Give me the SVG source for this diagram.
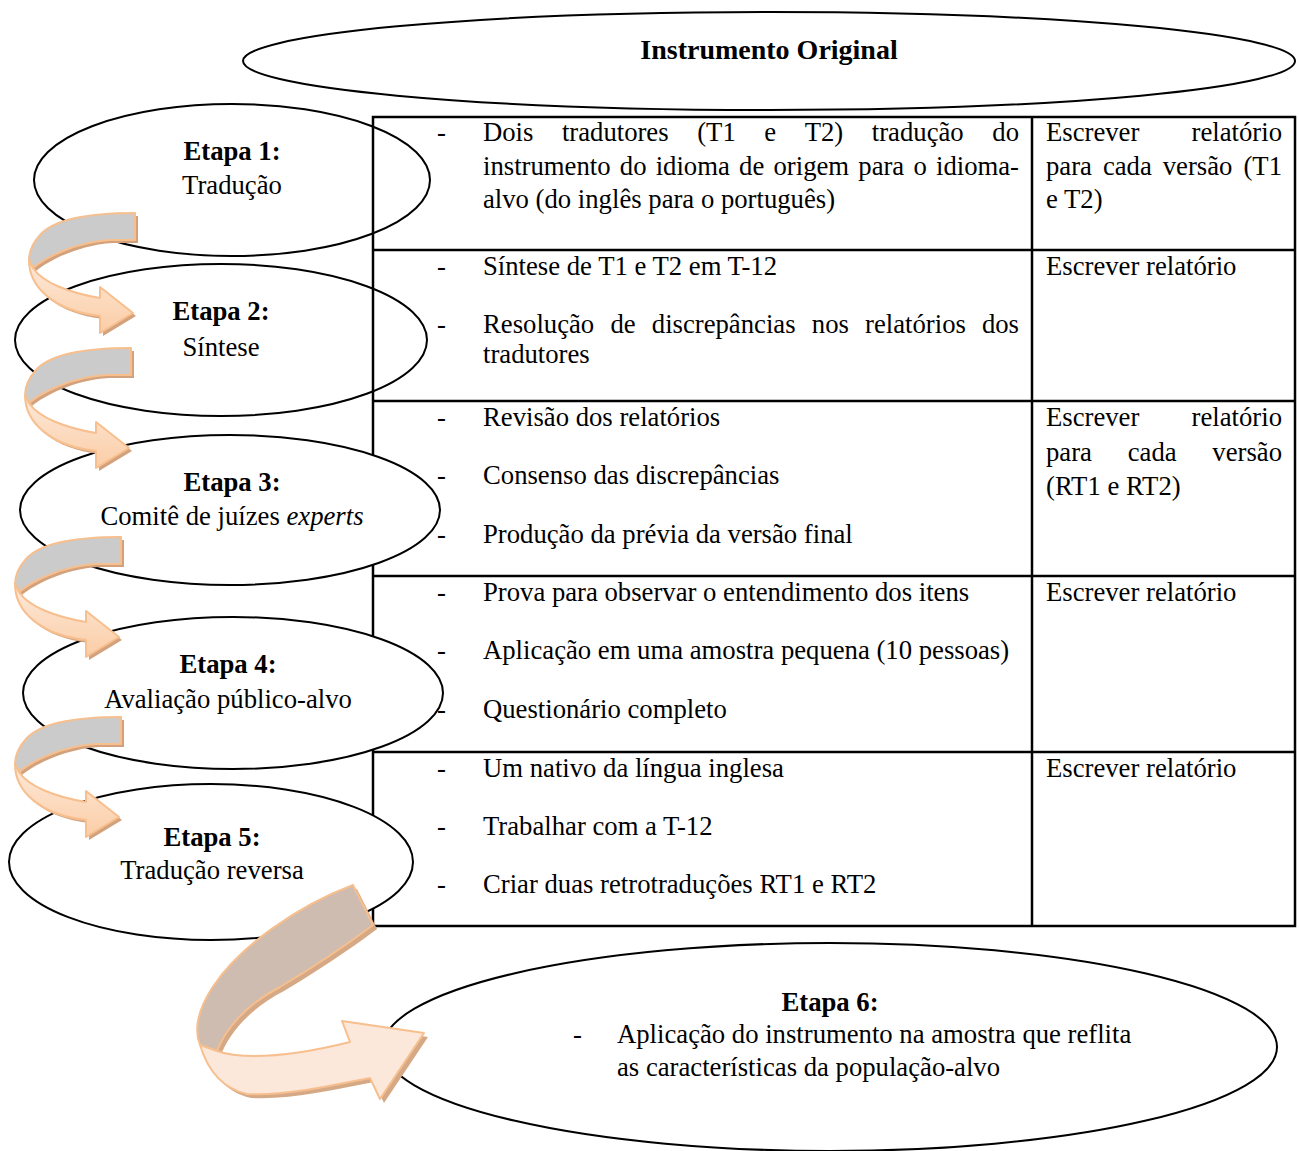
<svg xmlns="http://www.w3.org/2000/svg" width="1299" height="1151" viewBox="0 0 1299 1151">
  <defs>
    <linearGradient id="frontFill" x1="0" y1="0" x2="0" y2="1">
      <stop offset="0" stop-color="#fde9da"/>
      <stop offset="1" stop-color="#fbcda6"/>
    </linearGradient>
    <!-- small curled arrow, origin at the top-right corner of its back band -->
    <path id="curlBack" d="M0,0 C-40,0 -80,5 -95,22 C-103,31 -106,40 -106,47 L-102,55 C-90,45 -60,29 -25,27 L0,27 Z"/>
    <path id="curlFront" d="M-106,47 C-106,75 -80,98 -35,103 L-35,120 L-2,100 L-35,74 L-35,85 C-65,80 -92,70 -102,55 Z"/>
  </defs>
  <style>
    text { font-family: "Liberation Serif", "Times New Roman", serif; font-size: 26.7px; fill: #000; }
    .b { font-weight: bold; }
    .title { font-size: 28px; }
    .mid { text-anchor: middle; }
    .end { text-anchor: end; }
    .node { fill: #fff; stroke: #000; stroke-width: 2; }
    .grid { fill: none; stroke: #000; stroke-width: 2.5; }
    .shadow { fill: #d3a27c; stroke: none; }
    .back { fill: #cbcbcb; stroke: #f7bf8e; stroke-width: 2; stroke-linejoin: round; }
    .front { fill: url(#frontFill); stroke: #f7bf8e; stroke-width: 2; stroke-linejoin: round; }
    .bigShadow { fill: #d6a986; stroke: none; }
    .bigBack { fill: #cdbcaf; stroke: #f7bf8e; stroke-width: 2; stroke-linejoin: round; }
    .bigFront { fill: #fce8da; stroke: #f7bf8e; stroke-width: 2; stroke-linejoin: round; }
  </style>

  <rect width="1299" height="1151" fill="#fff"/>

  <!-- source instrument -->
  <g id="instrumento-original">
    <ellipse class="node" cx="769" cy="61" rx="526" ry="49"/>
    <text class="b mid title" x="769" y="59">Instrumento Original</text>
  </g>

  <!-- stages 1 and 2 sit behind the table -->
  <g id="etapa-1">
    <ellipse class="node" cx="232" cy="180" rx="198" ry="76"/>
    <text class="b mid" x="232" y="160">Etapa 1:</text>
    <text class="mid" x="232" y="194">Tradução</text>
  </g>
  <g id="etapa-2">
    <ellipse class="node" cx="221" cy="340" rx="206" ry="76"/>
    <text class="b mid" x="221" y="320">Etapa 2:</text>
    <text class="mid" x="221" y="356">Síntese</text>
  </g>

  <!-- activities / reports table -->
  <g id="tabela">
    <rect class="grid" x="373" y="117" width="922" height="809"/>
    <line class="grid" x1="1032" y1="117" x2="1032" y2="926"/>
    <line class="grid" x1="373" y1="250" x2="1295" y2="250"/>
    <line class="grid" x1="373" y1="401" x2="1295" y2="401"/>
    <line class="grid" x1="373" y1="576" x2="1295" y2="576"/>
    <line class="grid" x1="373" y1="752" x2="1295" y2="752"/>

    <!-- row 1 -->
    <text x="437" y="141">-</text>
    <text y="141"><tspan x="483">Dois</tspan><tspan x="561.9">tradutores</tspan><tspan x="697.2">(T1</tspan><tspan x="764.3">e</tspan><tspan x="804.7">T2)</tspan><tspan x="871.8">tradução</tspan></text>
    <text class="end" x="1019" y="141">do</text>
    <text y="175"><tspan x="483">instrumento</tspan><tspan x="619.8">do</tspan><tspan x="655.7">idioma</tspan><tspan x="739.1">de</tspan><tspan x="773.5">origem</tspan><tspan x="858.3">para</tspan><tspan x="913.5">o</tspan></text>
    <text class="end" x="1019" y="175">idioma-</text>
    <text x="483" y="208">alvo (do inglês para o português)</text>
    <text x="1046" y="141">Escrever</text>
    <text class="end" x="1282" y="141">relatório</text>
    <text y="175"><tspan x="1046">para</tspan><tspan x="1102.9">cada</tspan><tspan x="1162.7">versão</tspan></text>
    <text class="end" x="1282" y="175">(T1</text>
    <text x="1046" y="208">e T2)</text>

    <!-- row 2 -->
    <text x="437" y="275">-</text>
    <text x="483" y="275">Síntese de T1 e T2 em T-12</text>
    <text x="437" y="333">-</text>
    <text y="333"><tspan x="483">Resolução</tspan><tspan x="610.4">de</tspan><tspan x="651.8">discrepâncias</tspan><tspan x="811.8">nos</tspan><tspan x="865.1">relatórios</tspan></text>
    <text class="end" x="1019" y="333">dos</text>
    <text x="483" y="363">tradutores</text>
    <text x="1046" y="275">Escrever relatório</text>

    <!-- row 3 -->
    <text x="437" y="426">-</text>
    <text x="483" y="426">Revisão dos relatórios</text>
    <text x="437" y="484">-</text>
    <text x="483" y="484">Consenso das discrepâncias</text>
    <text x="437" y="543">-</text>
    <text x="483" y="543">Produção da prévia da versão final</text>
    <text x="1046" y="426">Escrever</text>
    <text class="end" x="1282" y="426">relatório</text>
    <text y="461"><tspan x="1046">para</tspan><tspan x="1127.7">cada</tspan></text>
    <text class="end" x="1282" y="461">versão</text>
    <text x="1046" y="495">(RT1 e RT2)</text>

    <!-- row 4 -->
    <text x="437" y="601">-</text>
    <text x="483" y="601">Prova para observar o entendimento dos itens</text>
    <text x="437" y="659">-</text>
    <text x="483" y="659">Aplicação em uma amostra pequena (10 pessoas)</text>
    <text x="437" y="718">-</text>
    <text x="483" y="718">Questionário completo</text>
    <text x="1046" y="601">Escrever relatório</text>

    <!-- row 5 -->
    <text x="437" y="777">-</text>
    <text x="483" y="777">Um nativo da língua inglesa</text>
    <text x="437" y="835">-</text>
    <text x="483" y="835">Trabalhar com a T-12</text>
    <text x="437" y="893">-</text>
    <text x="483" y="893">Criar duas retrotraduções RT1 e RT2</text>
    <text x="1046" y="777">Escrever relatório</text>
  </g>

  <!-- stages 3 to 5 are drawn over the table's left edge -->
  <g id="etapa-3">
    <ellipse class="node" cx="230" cy="510" rx="210" ry="75"/>
    <text class="b mid" x="232" y="491">Etapa 3:</text>
    <text class="mid" x="232" y="525">Comitê de juízes <tspan font-style="italic">experts</tspan></text>
  </g>
  <g id="etapa-4">
    <ellipse class="node" cx="233" cy="693" rx="210" ry="76"/>
    <text class="b mid" x="228" y="673">Etapa 4:</text>
    <text class="mid" x="228" y="708">Avaliação público-alvo</text>
  </g>
  <g id="etapa-5">
    <ellipse class="node" cx="211" cy="862" rx="202" ry="78"/>
    <text class="b mid" x="212" y="846">Etapa 5:</text>
    <text class="mid" x="212" y="879">Tradução reversa</text>
  </g>
  <g id="etapa-6">
    <ellipse class="node" cx="830" cy="1047" rx="447" ry="104"/>
    <text class="b mid" x="830" y="1011">Etapa 6:</text>
    <text x="573" y="1043">-</text>
    <text x="617" y="1043">Aplicação do instrumento na amostra que reflita</text>
    <text x="617" y="1076">as características da população-alvo</text>
  </g>

  <!-- curled arrows between stages -->
  <g id="conectores">
    <g transform="translate(135,213)">
      <use href="#curlBack" class="shadow" transform="translate(3,3)"/>
      <use href="#curlFront" class="shadow" transform="translate(3,3)"/>
      <use href="#curlBack" class="back"/>
      <use href="#curlFront" class="front"/>
    </g>
    <g transform="translate(131,348)">
      <use href="#curlBack" class="shadow" transform="translate(3,3)"/>
      <use href="#curlFront" class="shadow" transform="translate(3,3)"/>
      <use href="#curlBack" class="back"/>
      <use href="#curlFront" class="front"/>
    </g>
    <g transform="translate(121,537)">
      <use href="#curlBack" class="shadow" transform="translate(3,3)"/>
      <use href="#curlFront" class="shadow" transform="translate(3,3)"/>
      <use href="#curlBack" class="back"/>
      <use href="#curlFront" class="front"/>
    </g>
    <g transform="translate(121,717)">
      <use href="#curlBack" class="shadow" transform="translate(3,3)"/>
      <use href="#curlFront" class="shadow" transform="translate(3,3)"/>
      <use href="#curlBack" class="back"/>
      <use href="#curlFront" class="front"/>
    </g>
    <!-- large arrow from stage 5 to stage 6 -->
    <g>
      <g transform="translate(4,4)">
        <path class="bigShadow" d="M353,885 C300,905 240,945 212,988 C198,1010 194,1030 200,1045 L217,1051 C225,1030 245,1005 280,987 C312,968 345,946 373,925 Z"/>
        <path class="bigShadow" d="M200,1045 C207,1068 220,1088 247,1094 C285,1096 330,1086 370,1078 L380,1099 L424,1033 L342,1021 L350,1042 C318,1050 285,1056 255,1056 C238,1056 225,1054 217,1051 Z"/>
      </g>
      <path class="bigBack" d="M353,885 C300,905 240,945 212,988 C198,1010 194,1030 200,1045 L217,1051 C225,1030 245,1005 280,987 C312,968 345,946 373,925 Z"/>
      <path class="bigFront" d="M200,1045 C207,1068 220,1088 247,1094 C285,1096 330,1086 370,1078 L380,1099 L424,1033 L342,1021 L350,1042 C318,1050 285,1056 255,1056 C238,1056 225,1054 217,1051 Z"/>
    </g>
  </g>
</svg>
